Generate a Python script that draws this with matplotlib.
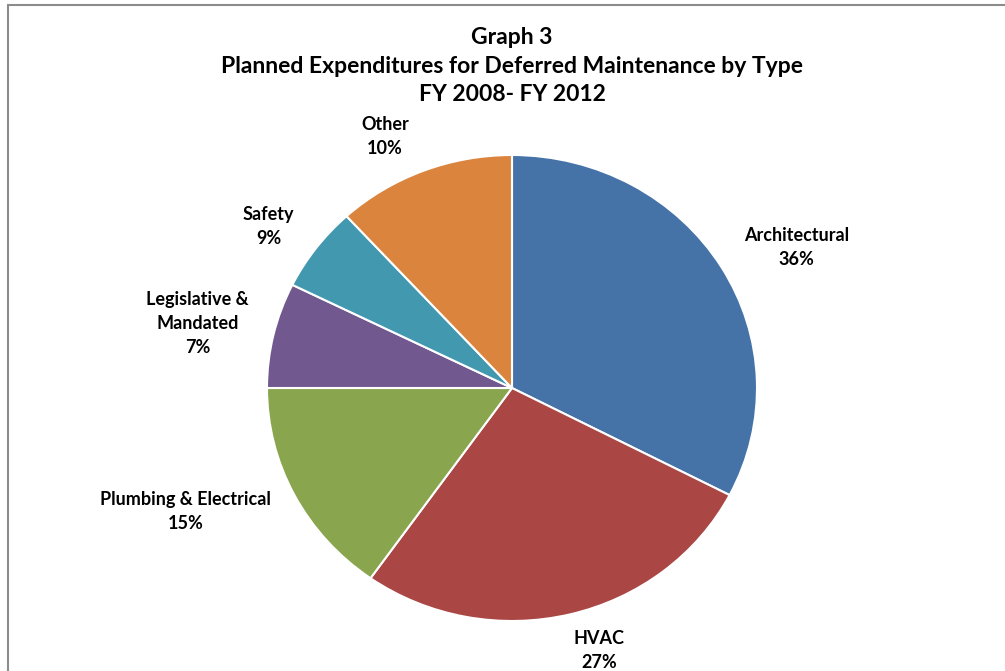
import numpy as np
import matplotlib
matplotlib.use("Agg")
import matplotlib.pyplot as plt
from matplotlib.patches import Rectangle

plt.rcParams['font.family'] = ['Lato', 'DejaVu Sans']

# slice sizes (percent of the pie)
categories = ['Architectural', 'HVAC', 'Plumbing & Electrical',
              'Legislative &\nMandated', 'Safety', 'Other']
shares = [32.6, 27.2, 15.2, 7.3, 5.9, 11.8]
# percentages as printed on the chart labels
pct_labels = ['36%', '27%', '15%', '7%', '9%', '10%']
colors = ['#4572A7', '#AA4643', '#89A54E', '#71588F', '#4198AF', '#DB843D']

title = 'Graph 3\nPlanned Expenditures for Deferred Maintenance by Type\nFY 2008- FY 2012'

W, H = 1005, 671
fig = plt.figure(figsize=(W / 100, H / 100), dpi=100)
ax = fig.add_axes([0, 0, 1, 1])

# pie centre and radii in pixels (chart is slightly stretched horizontally)
cx, cy, rx, ry = 512, 388, 245, 233

wedges, _ = ax.pie(shares, colors=colors, startangle=90, counterclock=False,
                   wedgeprops=dict(edgecolor='white', linewidth=1.5))
ax.set_aspect('auto')
ax.set_xlim(-cx / rx, (W - cx) / rx)
ax.set_ylim(-(H - cy) / ry, cy / ry)
ax.axis('off')

# outside-end labels, placed like Excel does
anns = []
for w, name, pct in zip(wedges, categories, pct_labels):
    ang = np.deg2rad((w.theta1 + w.theta2) / 2)
    c, s = np.cos(ang), np.sin(ang)
    ha = 'left' if c > 0 else 'right'
    a = ax.annotate(name + '\n' + pct, xy=(1.07 * c, 1.07 * s), xytext=(0, 0),
                    textcoords='offset pixels', ha=ha, va='center',
                    multialignment='center', fontsize=13, fontweight='bold',
                    color='black', linespacing=1.5)
    anns.append((a, c, s))

fig.canvas.draw()
r = fig.canvas.get_renderer()
for a, c, s in anns:
    h = a.get_window_extent(r).height
    dx = 8 * np.sign(c) if abs(c) > 0.3 else 0
    a.xyann = (dx, s * h / 2)

fig.text(cx / W, 1 - 27 / H, title, ha='center', va='top', fontsize=16.5,
         fontweight='bold', linespacing=1.45)

# chart frame (runs off the right and bottom of the picture)
fig.patches.append(Rectangle((8 / W, -0.1), 1.1, 1 - 5 / H + 0.1,
                             transform=fig.transFigure, fill=False,
                             edgecolor='#8c8c8c', linewidth=1.5))

fig.savefig('out.png', dpi=100)
